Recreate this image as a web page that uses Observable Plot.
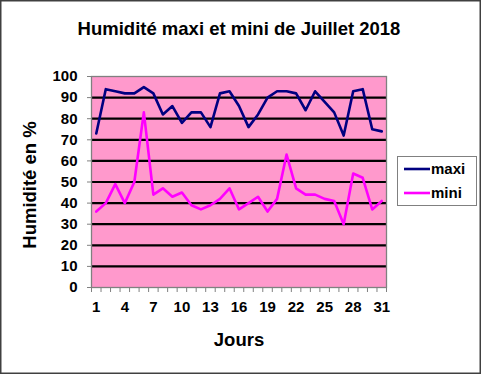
<!DOCTYPE html>
<html><head><meta charset="utf-8">
<script src="https://cdn.jsdelivr.net/npm/d3@7"></script>
<script src="https://cdn.jsdelivr.net/npm/@observablehq/plot@0.6"></script>
<style>body{margin:0;background:#fff}#chart svg{display:block}</style>
</head><body><div id="chart"></div>
<script>
const days = d3.range(1, 32);
const maxi = [73,94,93,92,92,95,92,82,86,78,83,83,76,92,93,86,76,82,90,93,93,92,84,93,88,83,72,93,94,75,74];
const mini = [36,40,49,40,50,83,44,47,43,45,39,37,39,42,47,37,40,43,36,42,63,47,44,44,42,41,30,54,52,37,41];
const seriesNames = ["maxi","mini"];
const colors = ["#000080","#FF00FF"];
const xTickLabels = [1,4,7,10,13,16,19,22,25,28,31];
const yTicks = d3.range(0, 101, 10);
const title = "Humidité maxi et mini de Juillet 2018";
const yLabel = "Humidité en %";
const xLabel = "Jours";

const rows = [];
days.forEach((d,i)=>{ rows.push({day:d, v:maxi[i], s:seriesNames[0]}); rows.push({day:d, v:mini[i], s:seriesNames[1]}); });
const font = "'Liberation Sans', Arial, sans-serif";

const plot = Plot.plot({
  width: 481, height: 374,
  marginLeft: 91, marginRight: 95, marginTop: 76, marginBottom: 87,
  style: {fontFamily: font, fontWeight: "bold", fontSize: "15px", color: "#000", background: "#fff", overflow: "visible"},
  x: {domain: [0.5, 31.5], axis: null},
  y: {domain: [0, 100], axis: null},
  color: {domain: seriesNames, range: colors},
  marks: [
    Plot.frame({fill: "#FF99CC", stroke: "none"}),
    Plot.ruleY(yTicks.filter(t => t > 0 && t < 100), {stroke: "#000", strokeWidth: 2.2}),
    Plot.frame({stroke: "#808080", strokeWidth: 1.3}),
    Plot.axisY({ticks: yTicks, tickSize: 4, tickPadding: 10, stroke: "#808080", fontSize: 15, fontWeight: "bold", label: null}),
    Plot.axisX({ticks: d3.range(0.5, 32, 1), tickSize: 5, tickFormat: () => "", stroke: "#808080", label: null}),
    Plot.axisX({ticks: xTickLabels, tickSize: 0, tickPadding: 14, fontSize: 15, fontWeight: "bold", label: null}),
    Plot.line(rows, {x: "day", y: "v", z: "s", stroke: "s", strokeWidth: 2.6}),
    Plot.text([title], {frameAnchor: "top", lineAnchor: "middle", dy: -47, text: d => d, fontSize: 18.5, fontWeight: "bold"}),
    Plot.text([xLabel], {frameAnchor: "bottom", lineAnchor: "middle", dy: 53, text: d => d, fontSize: 18.5, fontWeight: "bold"}),
    Plot.text([yLabel], {frameAnchor: "left", dx: -61, dy: 3, rotate: -90, textAnchor: "middle", text: d => d, fontSize: 18.5, fontWeight: "bold"})
  ]
});
document.getElementById("chart").appendChild(plot);

const svg = d3.select(plot);
svg.append("rect").attr("x", 0.75).attr("y", 0.75).attr("width", 479.5).attr("height", 372.5)
  .attr("fill", "none").attr("stroke", "#404040").attr("stroke-width", 1.5);
const lg = svg.append("g");
lg.append("rect").attr("x", 397.5).attr("y", 156.5).attr("width", 79).attr("height", 49)
  .attr("fill", "#fff").attr("stroke", "#808080").attr("stroke-width", 1);
seriesNames.forEach((n, i) => {
  const cy = 169 + i * 24;
  lg.append("line").attr("x1", 404).attr("x2", 430).attr("y1", cy).attr("y2", cy)
    .attr("stroke", colors[i]).attr("stroke-width", 2.6);
  lg.append("text").attr("x", 431).attr("y", cy).attr("dy", "0.35em").attr("text-anchor", "start")
    .attr("font-family", font).attr("font-weight", "bold").attr("font-size", 15).text(n);
});
</script></body></html>
